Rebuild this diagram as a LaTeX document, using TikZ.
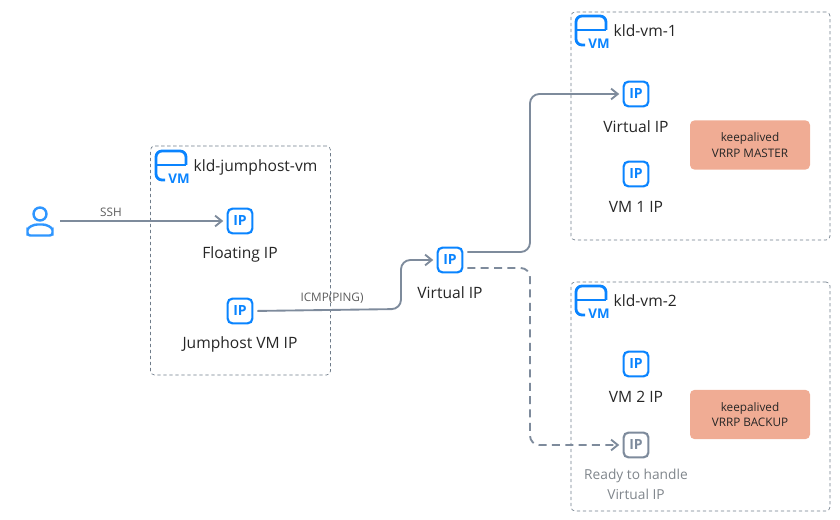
\documentclass[tikz,border=0pt]{standalone}
\usepackage{fontspec}
\setmainfont{Open Sans}
\usepackage{xcolor}
\usetikzlibrary{arrows.meta,positioning,calc}
\definecolor{ipblue}{HTML}{0A84FF}
\definecolor{linegray}{HTML}{7E8B9C}
\definecolor{boxgray}{HTML}{6F7C8A}
\definecolor{peach}{HTML}{F0AC94}
\definecolor{labelgray}{HTML}{80868C}
\definecolor{inkdark}{HTML}{262626}
\tikzset{
    >={Straight Barb[length=5pt,width=8pt]},
    ipicon/.style={draw=#1, text=#1, line width=1.6pt, rounded corners=3.5pt, minimum size=18.5pt,
        inner sep=0pt, font=\fontsize{10.5}{10}\selectfont\bfseries},
    ipicon/.default=ipblue,
    iplabel/.style={font=\fontsize{11.7}{14}\selectfont, text=inkdark, align=center},
    vmbox/.style={draw=boxgray, dash pattern=on 2.5pt off 2pt, line width=0.5pt, rounded corners=3pt, inner sep=0pt},
    vmname/.style={font=\fontsize{11.7}{14}\selectfont, text=inkdark, anchor=west},
    vrrpbox/.style={fill=peach, rounded corners=3.5pt, minimum width=90pt, minimum height=37pt,
        inner sep=0pt, align=center, text=inkdark, font=\fontsize{8.8}{11.5}\selectfont},
    linklabel/.style={font=\fontsize{8.8}{10}\selectfont, text=inkdark!75},
    conn/.style={->, draw=linegray, line width=1.4pt, rounded corners=7pt, shorten <=3pt, shorten >=2.5pt},
    vmlogo/.pic={
        \draw[ipblue, line width=2.1pt, rounded corners=4.5pt] (30,14) -- (30,0) -- (0,0) -- (0,29) -- (9,29);
        \draw[ipblue, line width=2.1pt] (0,14) -- (30,14);
        \node[ipblue, font=\fontsize{10}{10}\selectfont\bfseries, inner sep=0pt] at (23,28) {VM};
    },
}

\begin{document}
\begin{tikzpicture}[x=0.75pt, y=-0.75pt]
    \useasboundingbox (0,0) rectangle (840,520);

    % Dashed frames
    \node[vmbox, minimum width=135pt, minimum height=171.75pt] (jumpbox) at (240.5,260.5) {};
    \node[vmbox, minimum width=194.25pt, minimum height=171pt] (vm1box) at (700.5,126) {};
    \node[vmbox, minimum width=194.25pt, minimum height=171.75pt] (vm2box) at (700.5,396.5) {};

    % VM logos and names
    \pic at (156,151) {vmlogo};
    \pic at (576,16) {vmlogo};
    \pic at (576,286) {vmlogo};
    \node[vmname] (jumpname) at (189,167) {kld-jumphost-vm};
    \node[vmname] (vm1name) at (609,31) {kld-vm-1};
    \node[vmname] (vm2name) at (609,301) {kld-vm-2};

    % User
    \node[minimum size=30pt, inner sep=0pt, outer sep=0pt] (user) at (40,221) {};
    \draw[ipblue!85!white, line width=1.8pt] (40,214) circle (6.5);
    \draw[ipblue!85!white, line width=1.8pt, rounded corners=2pt] (27.5,235.5) -- (27.5,233)
        .. controls (27.5,227) and (34,224.5) .. (40,224.5)
        .. controls (46,224.5) and (52.5,227) .. (52.5,233) -- (52.5,235.5) -- cycle;

    % Jumphost addresses
    \node[ipicon] (floatip) at (240,221) {IP};
    \node[iplabel] (floatlabel) at (240,254) {Floating IP};
    \node[ipicon] (jumpip) at (240,311) {IP};
    \node[iplabel] (jumplabel) at (240,344) {Jumphost VM IP};

    % Shared address
    \node[ipicon] (sharedip) at (450,260) {IP};
    \node[iplabel] (sharedlabel) at (450,293) {Virtual IP};

    % First VM
    \node[ipicon] (vm1vip) at (636,94) {IP};
    \node[iplabel] (vm1viplabel) at (636,127) {Virtual IP};
    \node[ipicon] (vm1ip) at (636,174) {IP};
    \node[iplabel] (vm1iplabel) at (636,207) {VM 1 IP};
    \node[vrrpbox] (master) at (750,145) {keepalived\\VRRP MASTER};

    % Second VM
    \node[ipicon] (vm2ip) at (636,364) {IP};
    \node[iplabel] (vm2iplabel) at (636,397) {VM 2 IP};
    \node[ipicon=linegray] (vm2vip) at (636,445) {IP};
    \node[iplabel, text=labelgray, font=\fontsize{10.3}{14.5}\selectfont] (vm2viplabel) at (636,484.5) {Ready to handle\\Virtual IP};
    \node[vrrpbox] (backup) at (750,414.5) {keepalived\\VRRP BACKUP};

    % Connectors
    \coordinate (jumpbend) at (401,309);
    \coordinate (upbend) at (530,170);
    \coordinate (downbend) at (530,360);
    \draw[conn, shorten <=0pt] (user) -- (floatip);
    \draw[conn] (jumpip.east) -- (jumpbend) |- (sharedip.west);
    \draw[conn] ([yshift=6pt]sharedip.east) -| (upbend) |- (vm1vip.west);
    \draw[conn, dash pattern=on 6pt off 4pt] ([yshift=-6pt]sharedip.east) -| (downbend) |- (vm2vip.west);

    % Link labels
    \node[linklabel] (sshlabel) at (111,212) {SSH};
    \node[linklabel] (pinglabel) at (332,298) {ICMP(PING)};
\end{tikzpicture}
\end{document}
